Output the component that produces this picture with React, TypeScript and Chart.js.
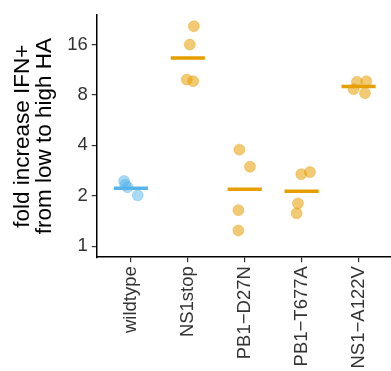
import React, { useEffect, useRef } from 'react';
import { Chart, registerables } from 'chart.js';
Chart.register(...registerables);

const categories = ['wildtype', 'NS1stop', 'PB1−D27N', 'PB1−T677A', 'NS1−A122V'];
const yTicks = [1, 2, 4, 8, 16];

const wildtypeValues = [2.45, 2.33, 2.25, 2.01];
const wildtypeJitter = [-0.12, -0.1, -0.06, 0.12];
const ns1stopValues = [20.6, 16.0, 9.89, 9.67];
const ns1stopJitter = [0.106, 0.035, -0.018, 0.095];
const d27nValues = [3.77, 2.98, 1.64, 1.24];
const d27nJitter = [-0.094, 0.093, -0.111, -0.111];
const t677aValues = [2.69, 2.77, 1.8, 1.57];
const t677aJitter = [-0.007, 0.146, -0.065, -0.088];
const a122vValues = [9.58, 9.67, 8.67, 8.2];
const a122vJitter = [-0.028, 0.136, -0.088, 0.113];

const barValues = [2.22, 13.3, 2.19, 2.13, 8.98];

const seriesValues = [wildtypeValues, ns1stopValues, d27nValues, t677aValues, a122vValues];
const seriesJitter = [wildtypeJitter, ns1stopJitter, d27nJitter, t677aJitter, a122vJitter];

const BLUE = '#56B4E9';
const ORANGE = '#E69F00';
const FONT = 'Liberation Sans, Arial, sans-serif';

export default function App() {
  const ref = useRef<HTMLCanvasElement>(null);
  useEffect(() => {
    if (!ref.current) return;
    const bluePts: any[] = [];
    const orangePts: any[] = [];
    seriesValues.forEach((vals, ci) => {
      vals.forEach((v, j) => {
        const p = { x: ci + 1 + seriesJitter[ci][j], y: v };
        (ci === 0 ? bluePts : orangePts).push(p);
      });
    });
    const blueBars: any[] = [];
    const orangeBars: any[] = [];
    barValues.forEach((m, ci) => {
      const arr = ci === 0 ? blueBars : orangeBars;
      arr.push({ x: ci + 1 - 0.3, y: m }, { x: ci + 1 + 0.3, y: m }, { x: ci + 1.5, y: null });
    });
    const chart = new Chart(ref.current, {
      type: 'scatter',
      data: {
        datasets: [
          { type: 'line', data: blueBars, borderColor: BLUE, borderWidth: 3.5, pointRadius: 0, spanGaps: false, order: 0 },
          { type: 'line', data: orangeBars, borderColor: ORANGE, borderWidth: 3.5, pointRadius: 0, spanGaps: false, order: 0 },
          { data: bluePts, backgroundColor: 'rgba(86,180,233,0.5)', borderColor: 'rgba(86,180,233,0.35)', borderWidth: 1, pointRadius: 5.5, order: 1 },
          { data: orangePts, backgroundColor: 'rgba(230,159,0,0.55)', borderColor: 'rgba(230,159,0,0.35)', borderWidth: 1, pointRadius: 5.5, order: 1 },
        ] as any,
      },
      options: {
        animation: false,
        responsive: false,
        layout: { autoPadding: false, padding: { top: 14, left: 12.5, right: 0, bottom: -1.5 } },
        plugins: { legend: { display: false }, tooltip: { enabled: false } },
        scales: {
          x: {
            type: 'linear',
            min: 0.4,
            max: 5.57,
            afterBuildTicks: (s: any) => { s.ticks = categories.map((_, i) => ({ value: i + 1 })); },
            ticks: {
              callback: (v: any) => categories[Math.round(v) - 1] ?? '',
              minRotation: 90,
              maxRotation: 90,
              autoSkip: false,
              color: '#333',
              font: { family: FONT, size: 18.5 },
              padding: 4,
            },
            grid: { display: true, drawOnChartArea: false, drawTicks: true, tickLength: 5, color: '#333', lineWidth: 1.2 },
            border: { display: true, color: '#000', width: 1.5 },
          },
          y: {
            type: 'logarithmic',
            min: 0.859,
            max: 24,
            afterBuildTicks: (s: any) => { s.ticks = yTicks.map((v) => ({ value: v })); },
            ticks: {
              callback: (v: any) => String(v),
              color: '#333',
              font: { family: FONT, size: 18.5 },
              padding: 4,
            },
            grid: { display: true, drawOnChartArea: false, drawTicks: true, tickLength: 5, color: '#333', lineWidth: 1.2 },
            border: { display: true, color: '#000', width: 1.5 },
            title: {
              display: true,
              text: ['fold increase IFN+', 'from low to high HA'],
              color: '#000',
              font: { family: FONT, size: 22.5, lineHeight: 0.95 },
              padding: { top: 0, bottom: 7.9 },
            },
          },
        },
      },
    });
    return () => chart.destroy();
  }, []);
  return (
    <div style={{ position: 'fixed', left: 0, top: 0, width: 391, height: 371, background: '#fff' }}>
      <canvas ref={ref} width={391} height={371} style={{ width: 391, height: 371 }} />
    </div>
  );
}
